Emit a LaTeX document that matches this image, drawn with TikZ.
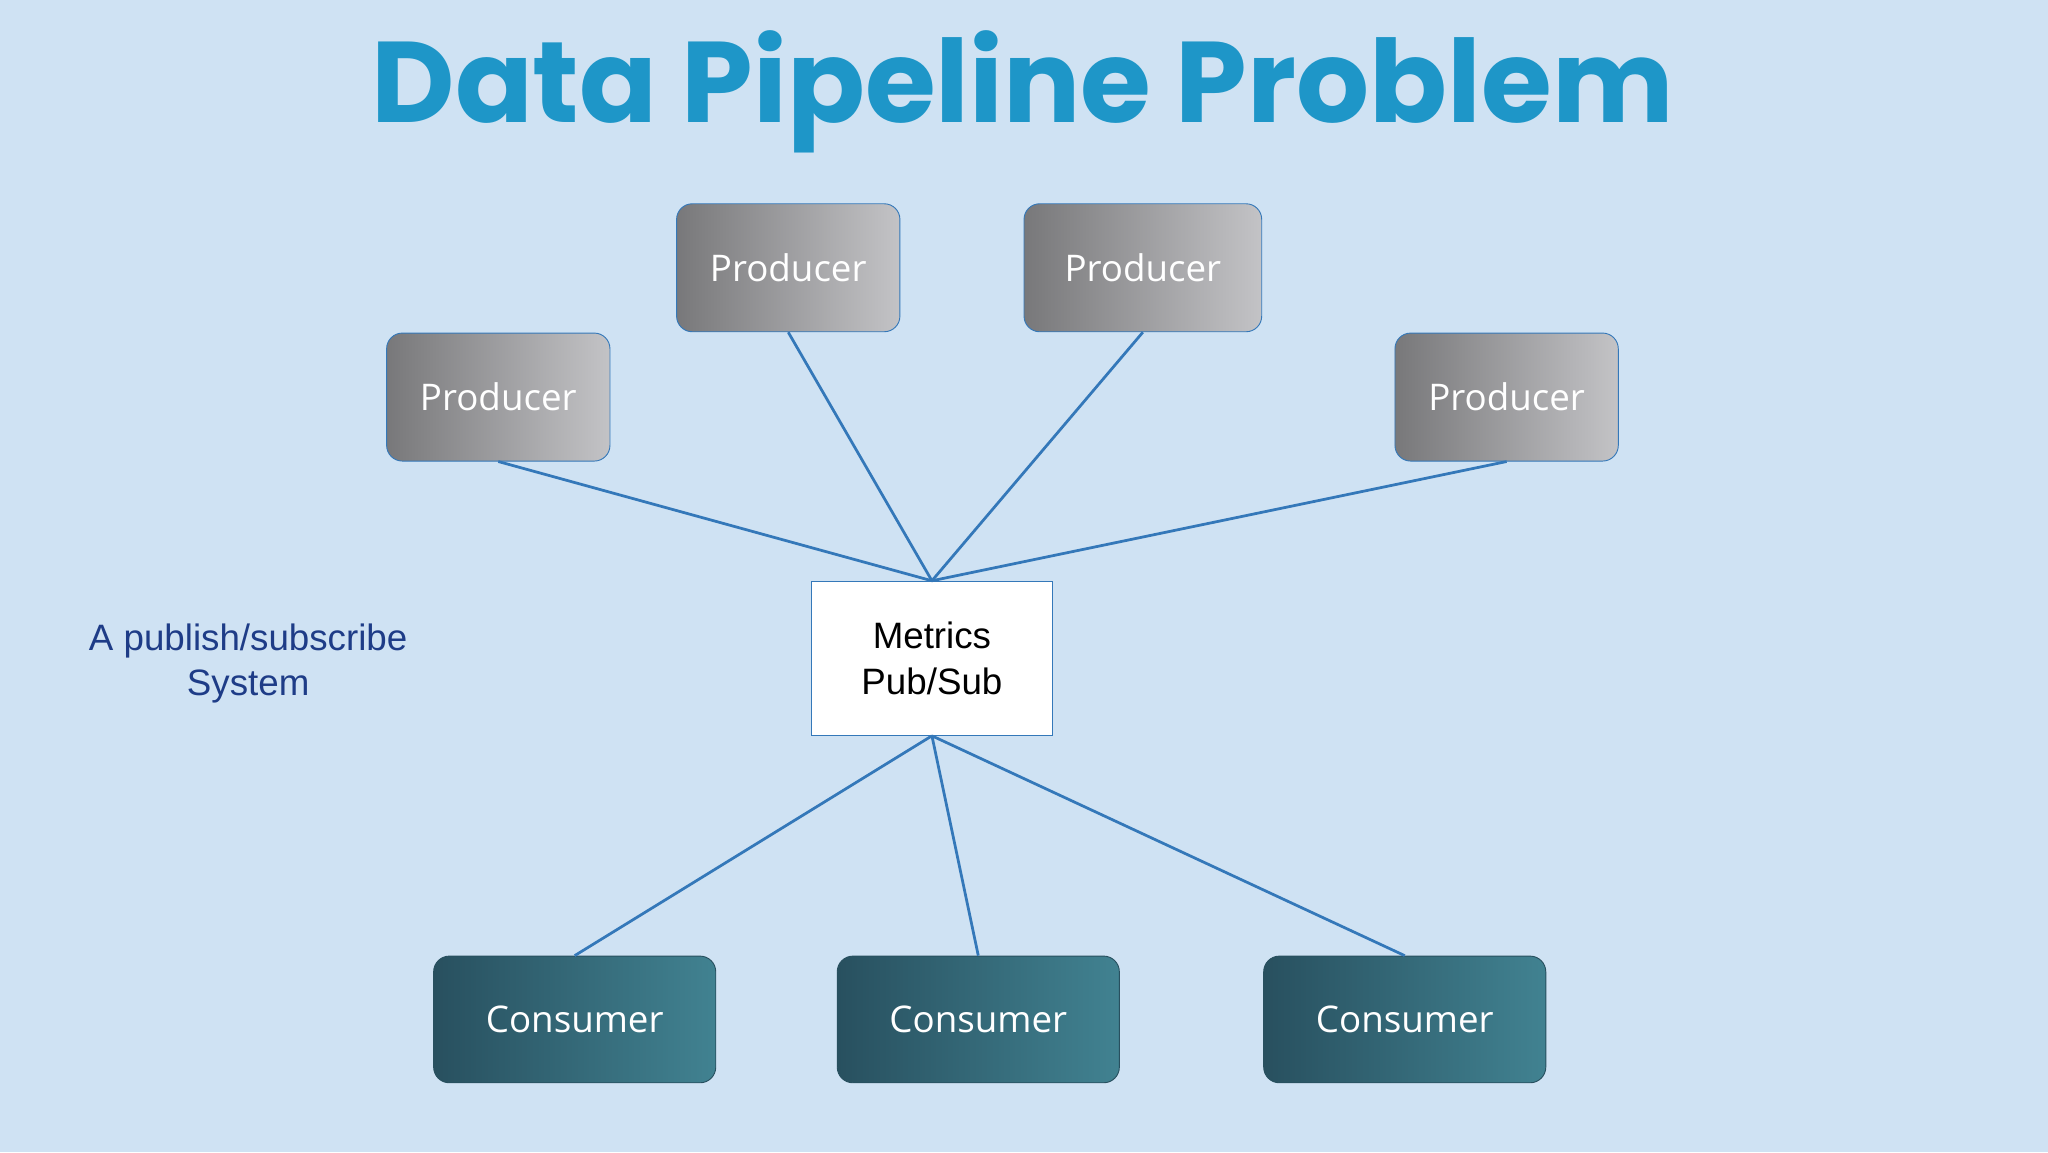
\documentclass[tikz,border=0pt]{standalone}
\usepackage{fontspec}
\setmainfont{Liberation Sans}
\newfontfamily\titlefont{Poppins}
\newfontfamily\boxfont{Open Sans}
\definecolor{bgc}{RGB}{207,226,243}
\definecolor{linec}{RGB}{52,120,185}
\definecolor{titlec}{RGB}{30,150,200}
\definecolor{consL}{RGB}{40,80,95}
\definecolor{consR}{RGB}{65,130,145}
\definecolor{lblc}{RGB}{30,60,135}
\definecolor{prodL}{RGB}{120,120,122}
\definecolor{prodR}{RGB}{195,195,198}
\begin{document}
\begin{tikzpicture}[x=0.05cm,y=-0.05cm,
  prod/.style={draw=linec, line width=1pt, rounded corners=0.6cm, minimum width=8.55cm, minimum height=4.9cm, left color=prodL, right color=prodR, text=white, font=\boxfont\fontsize{40}{48}\selectfont},
  cons/.style={draw=consL, line width=1pt, rounded corners=0.6cm, minimum width=10.8cm, minimum height=4.85cm, left color=consL, right color=consR, text=white, font=\boxfont\fontsize{40}{48}\selectfont},
  link/.style={draw=linec, line width=3pt}]
\fill[bgc] (0,0) rectangle (1568,882);
\useasboundingbox (0,0) rectangle (1568,882);
\node[font=\titlefont\bfseries\fontsize{125}{140}\selectfont, text=titlec] (title) at (783,70) {Data Pipeline Problem};
\node[prod] (p1) at (381.5,304) {Producer};
\node[prod] (p2) at (603.5,205) {Producer};
\node[prod, minimum width=9.1cm] (p3) at (875,205) {Producer};
\node[prod] (p4) at (1153.5,304) {Producer};
\node[draw=linec, fill=white, line width=1pt, minimum width=9.25cm, minimum height=5.9cm, align=center, font=\fontsize{40}{50}\selectfont] (m) at (713.5,504) {Metrics\\Pub/Sub};
\node[cons] (c1) at (440,780.5) {Consumer};
\node[cons] (c2) at (749,780.5) {Consumer};
\node[cons] (c3) at (1075.5,780.5) {Consumer};
\node[align=center, text=lblc, font=\fontsize{40}{50}\selectfont] (lbl) at (190,508) {A publish/subscribe\\System};
\foreach \p in {p1,p2,p3,p4} \draw[link] (\p.south) -- (m.north);
\foreach \c in {c1,c2,c3} \draw[link] (m.south) -- (\c.north);
\end{tikzpicture}
\end{document}
